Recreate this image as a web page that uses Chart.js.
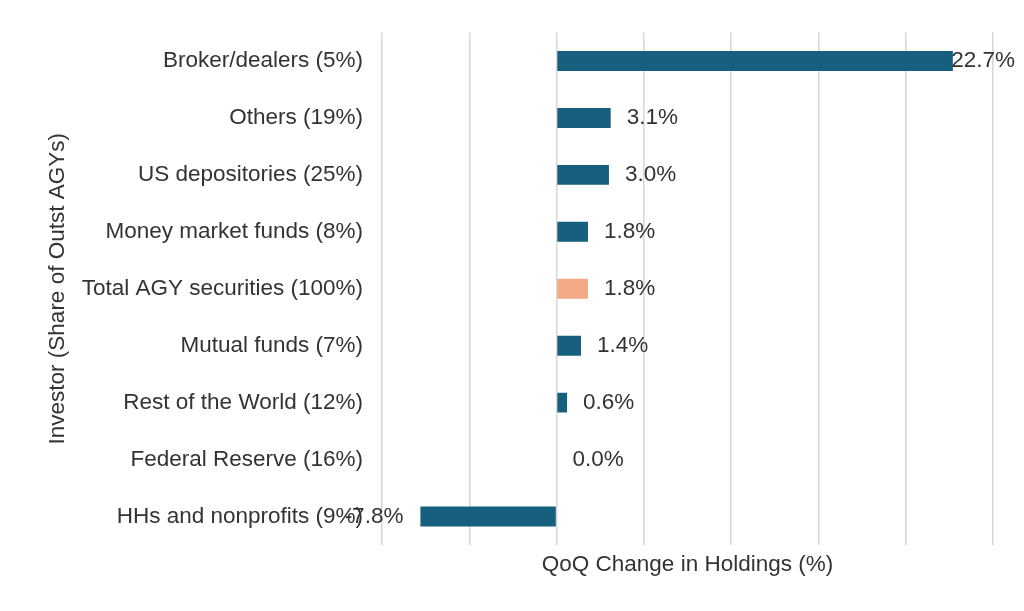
<!DOCTYPE html>
<html>
<head>
<meta charset="utf-8">
<script src="https://cdn.jsdelivr.net/npm/chart.js@4"></script>
<style>
  body { margin: 0; background: #fff; }
</style>
</head>
<body>
<canvas id="grafico" width="1024" height="611"></canvas>
<script>
// datos del grafico
const inversores = [
    'Broker/dealers (5%)',
    'Others (19%)',
    'US depositories (25%)',
    'Money market funds (8%)',
    'Total AGY securities (100%)',
    'Mutual funds (7%)',
    'Rest of the World (12%)',
    'Federal Reserve (16%)',
    'HHs and nonprofits (9%)'
];
const cambioQoQ = [22.7, 3.1, 3.0, 1.8, 1.8, 1.4, 0.6, 0.0, -7.8];
const totalLabel = 'Total AGY securities (100%)';

const azul = '#175f7f';
const salmon = '#f4aa87';
const texto = '#333333';
const fuente = { family: 'Liberation Sans, Arial, sans-serif', size: 22.5 };

const colores = inversores.map(i => i === totalLabel ? salmon : azul);

// etiquetas de valor al final de cada barra
const etiquetas = {
    id: 'etiquetas',
    afterDatasetsDraw(chart) {
        const ctx = chart.ctx;
        const meta = chart.getDatasetMeta(0);
        ctx.save();
        ctx.font = `${fuente.size}px ${fuente.family}`;
        ctx.fillStyle = texto;
        ctx.textBaseline = 'middle';
        meta.data.forEach((bar, i) => {
            const v = cambioQoQ[i];
            const txt = v.toFixed(1) + '%';
            const w = ctx.measureText(txt).width;
            if (v < 0) {
                ctx.textAlign = 'right';
                ctx.fillText(txt, bar.x - 17, bar.y);
            } else {
                ctx.textAlign = 'left';
                let x = bar.x + 16;
                if (x + w > chart.width - 9) x = chart.width - 9 - w;
                ctx.fillText(txt, x, bar.y);
            }
        });
        ctx.restore();
    }
};

const migrafica = new Chart(document.getElementById('grafico'), {
    type: 'bar',
    data: {
        labels: inversores,
        datasets: [{
            data: cambioQoQ,
            backgroundColor: colores,
            barPercentage: 0.35,
            categoryPercentage: 1
        }]
    },
    options: {
        indexAxis: 'y',
        responsive: false,
        animation: false,
        layout: { padding: { top: 31, right: 31, left: 0, bottom: 0 } },
        plugins: { legend: { display: false }, tooltip: { enabled: false } },
        scales: {
            x: {
                min: -10,
                max: 25,
                ticks: { display: false, stepSize: 5 },
                grid: { color: '#d6d6d6', lineWidth: 1.5, drawTicks: false },
                border: { display: false },
                title: {
                    display: true,
                    text: 'QoQ Change in Holdings (%)',
                    color: texto,
                    font: fuente,
                    padding: { top: 0, bottom: 33 }
                },
                afterFit: (scale) => { scale.height = 66; }
            },
            y: {
                ticks: { color: texto, font: fuente, padding: 19 },
                grid: { display: false, drawTicks: false },
                border: { display: false },
                title: {
                    display: true,
                    text: 'Investor (Share of Outst AGYs)',
                    color: texto,
                    font: fuente,
                    padding: { top: 44, bottom: 0 }
                },
                afterFit: (scale) => { scale.width = 382; }
            }
        }
    },
    plugins: [etiquetas]
});
</script>
</body>
</html>
